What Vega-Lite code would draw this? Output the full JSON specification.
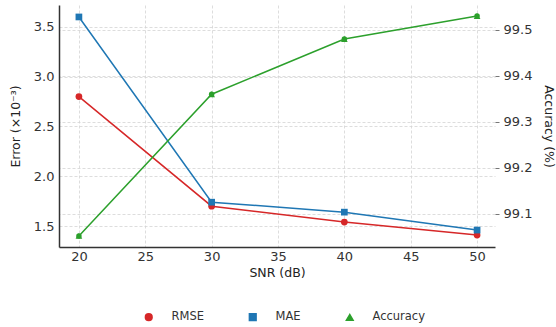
{
  "$schema": "https://vega.github.io/schema/vega-lite/v6.json",
  "autosize": "none",
  "width": 436,
  "height": 242,
  "padding": {"left": 59, "top": 5, "right": 61, "bottom": 80},
  "background": "white",
  "config": {
    "font": "DejaVu Sans",
    "view": {"stroke": null},
    "axis": {"labelFont": "DejaVu Sans", "titleFont": "DejaVu Sans", "labelFontSize": 13, "titleFontSize": 12.5, "titleFontWeight": "normal", "labelColor": "#333", "titleColor": "#222", "gridColor": "#d4d4d4", "gridDash": [3, 2], "gridWidth": 0.8, "tickColor": "#777", "tickSize": 4}
  },
  "data": {"values": [
    {"snr": 20, "series": "RMSE", "value": 2.8},
    {"snr": 30, "series": "RMSE", "value": 1.70},
    {"snr": 40, "series": "RMSE", "value": 1.54},
    {"snr": 50, "series": "RMSE", "value": 1.41},
    {"snr": 20, "series": "MAE", "value": 3.6},
    {"snr": 30, "series": "MAE", "value": 1.74},
    {"snr": 40, "series": "MAE", "value": 1.64},
    {"snr": 50, "series": "MAE", "value": 1.46},
    {"snr": 20, "series": "Accuracy", "value": 99.052},
    {"snr": 30, "series": "Accuracy", "value": 99.36},
    {"snr": 40, "series": "Accuracy", "value": 99.48},
    {"snr": 50, "series": "Accuracy", "value": 99.53}
  ]},
  "encoding": {
    "x": {"field": "snr", "type": "quantitative", "title": "SNR (dB)",
      "scale": {"domain": [18.5, 51.35], "nice": false, "zero": false},
      "axis": {"values": [20, 25, 30, 35, 40, 45, 50], "grid": true, "domainColor": "#333", "domainWidth": 1.5, "ticks": false, "labelPadding": 3, "titlePadding": 3}},
    "color": {"field": "series", "type": "nominal",
      "scale": {"domain": ["RMSE", "MAE", "Accuracy"], "range": ["#d62728", "#1f77b4", "#2ca02c"]},
      "legend": {"orient": "none", "legendX": 84, "legendY": 306, "direction": "horizontal", "title": null, "labelFontSize": 11.5, "labelColor": "#333", "columnPadding": 42, "labelOffset": 17, "symbolSize": 45, "symbolStrokeWidth": 1.5}},
    "shape": {"field": "series", "type": "nominal",
      "scale": {"domain": ["RMSE", "MAE", "Accuracy"], "range": ["circle", "square", "triangle-up"]}}
  },
  "layer": [
    {
      "transform": [{"filter": "datum.series !== 'Accuracy'"}],
      "encoding": {
        "y": {"field": "value", "type": "quantitative", "title": "Error (×10⁻³)",
          "scale": {"domain": [1.29, 3.72], "nice": false, "zero": false},
          "axis": {"values": [1.5, 2.0, 2.5, 3.0, 3.5], "format": ".1f", "grid": true, "domainColor": "#333", "domainWidth": 1.5, "ticks": false, "labelPadding": 5, "titlePadding": 11}}
      },
      "layer": [
        {"mark": {"type": "line", "strokeWidth": 1.5}, "encoding": {"shape": {"value": null}}},
        {"mark": {"type": "point", "filled": true, "size": 45, "opacity": 1}}
      ]
    },
    {
      "transform": [{"filter": "datum.series === 'Accuracy'"}],
      "encoding": {
        "y": {"field": "value", "type": "quantitative", "title": "Accuracy (%)",
          "scale": {"domain": [99.028, 99.554], "nice": false, "zero": false},
          "axis": {"orient": "right", "values": [99.1, 99.2, 99.3, 99.4, 99.5], "format": ".1f", "grid": true, "domain": false, "ticks": true, "labelPadding": 4, "titlePadding": 10, "titleAngle": 90}}
      },
      "layer": [
        {"mark": {"type": "line", "strokeWidth": 1.5}, "encoding": {"shape": {"value": null}}},
        {"mark": {"type": "point", "filled": true, "size": 45, "opacity": 1}}
      ]
    }
  ],
  "resolve": {"scale": {"y": "independent"}}
}
